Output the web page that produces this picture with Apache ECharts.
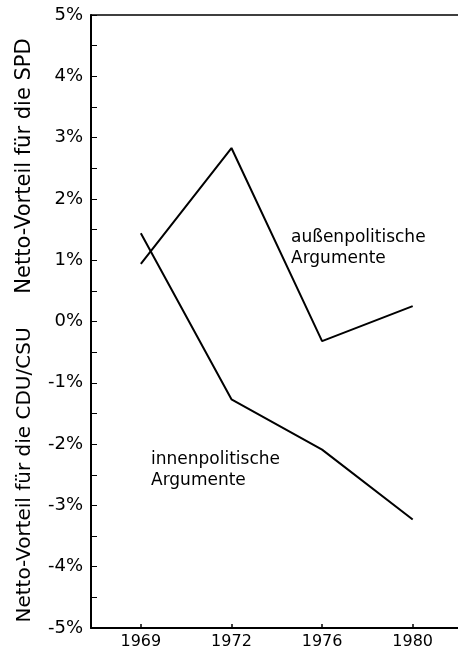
<!DOCTYPE html>
<html><head><meta charset="utf-8">
<script src="https://cdn.jsdelivr.net/npm/echarts@6/dist/echarts.min.js"></script>
<style>html,body{margin:0;padding:0;background:#fff}#c{width:458px;height:657px}</style>
</head><body><div id="c"></div>
<script>
const years = ['1969', '1972', '1976', '1980'];
const aussen = [0.94, 2.83, -0.32, 0.25];
const innen = [1.44, -1.27, -2.09, -3.23];
const yTicks = [-5, -4, -3, -2, -1, 0, 1, 2, 3, 4, 5];
const labelAussen = ['außenpolitische', 'Argumente'];
const labelInnen = ['innenpolitische', 'Argumente'];
const titleTop = 'Netto-Vorteil für die SPD';
const titleBottom = 'Netto-Vorteil für die CDU/CSU';

const chart = echarts.init(document.getElementById('c'), null, {renderer: 'canvas'});
const font = 'DejaVu Sans';
const idx = years.map((_, i) => i);
chart.setOption({
  animation: false,
  backgroundColor: '#fff',
  grid: {left: 91, right: 0, top: 15, bottom: 29},
  xAxis: [{
    type: 'value', min: -0.55, max: 3.5, position: 'bottom',
    axisLine: {show: true, onZero: false, lineStyle: {color: '#000', width: 2}},
    axisTick: {show: true, inside: true, length: 4, customValues: idx, lineStyle: {color: '#000', width: 1.5}},
    axisLabel: {customValues: idx, formatter: v => years[Math.round(v)], color: '#000', fontFamily: font, fontSize: 16, margin: 6},
    splitLine: {show: false}
  }, {
    type: 'value', min: -0.55, max: 3.5, position: 'top',
    axisLine: {show: true, onZero: false, lineStyle: {color: '#000', width: 1.5}},
    axisTick: {show: false}, axisLabel: {show: false}, splitLine: {show: false}
  }],
  yAxis: {
    type: 'value', min: -5, max: 5, interval: 1,
    axisLine: {show: true, onZero: false, lineStyle: {color: '#000', width: 2}},
    axisTick: {show: true, inside: true, length: 6, customValues: yTicks, lineStyle: {color: '#000', width: 1}},
    minorTick: {show: true, splitNumber: 2, length: 6, lineStyle: {color: '#000', width: 1}},
    axisLabel: {customValues: yTicks, formatter: v => v + '%', color: '#000', fontFamily: font, fontSize: 18, margin: 8},
    splitLine: {show: false}
  },
  series: [{
    type: 'line', name: 'außenpolitische Argumente',
    data: aussen.map((v, i) => [i, v]),
    symbol: 'none', lineStyle: {color: '#000', width: 2}
  }, {
    type: 'line', name: 'innenpolitische Argumente',
    data: innen.map((v, i) => [i, v]),
    symbol: 'none', lineStyle: {color: '#000', width: 2}
  }],
  graphic: [
    {type: 'text', x: 25, y: 166, rotation: Math.PI / 2,
     style: {text: titleTop, font: '21px "DejaVu Sans"', fill: '#000', align: 'center', verticalAlign: 'middle'}},
    {type: 'text', x: 25, y: 475, rotation: Math.PI / 2,
     style: {text: titleBottom, font: '20px "DejaVu Sans"', fill: '#000', align: 'center', verticalAlign: 'middle'}},
    {type: 'text', x: 291, y: 229,
     style: {text: labelAussen[0], font: '17px "DejaVu Sans"', fill: '#000', align: 'left', verticalAlign: 'alphabetic'}},
    {type: 'text', x: 291, y: 250,
     style: {text: labelAussen[1], font: '17px "DejaVu Sans"', fill: '#000', align: 'left', verticalAlign: 'alphabetic'}},
    {type: 'text', x: 151, y: 451,
     style: {text: labelInnen[0], font: '17px "DejaVu Sans"', fill: '#000', align: 'left', verticalAlign: 'alphabetic'}},
    {type: 'text', x: 151, y: 472,
     style: {text: labelInnen[1], font: '17px "DejaVu Sans"', fill: '#000', align: 'left', verticalAlign: 'alphabetic'}}
  ]
});
</script></body></html>
